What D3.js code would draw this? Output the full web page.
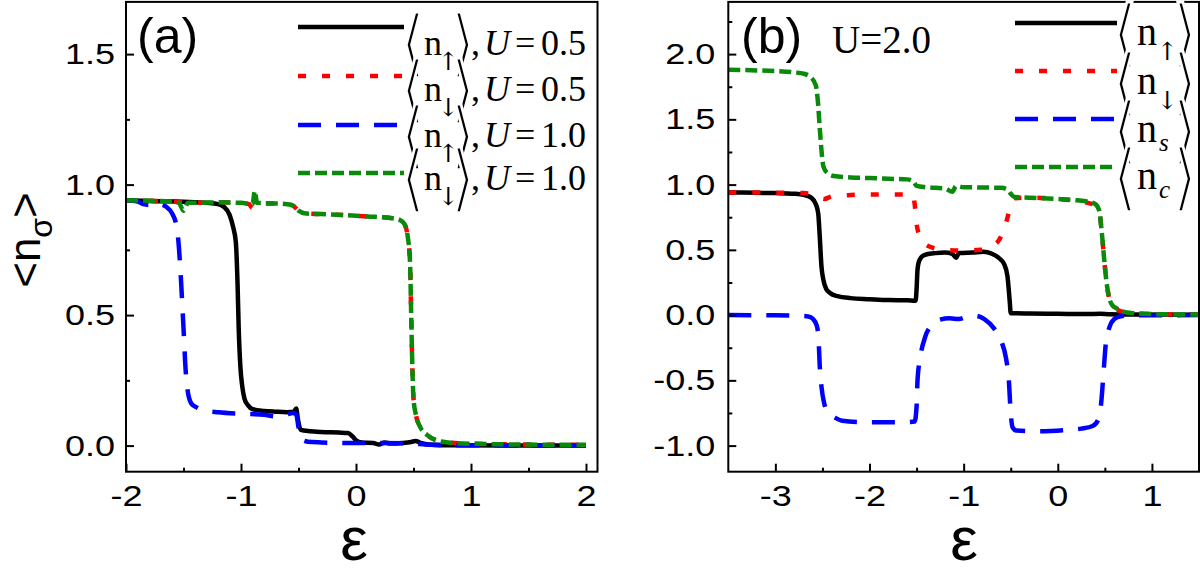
<!DOCTYPE html>
<html><head><meta charset="utf-8">
<script src="https://cdn.jsdelivr.net/npm/d3@7"></script>
<style>
body{margin:0;background:#fff;}
svg{display:block;}
</style></head><body>
<svg id="c" width="1200" height="582"></svg>
<script>
// ---------- DATA ----------
// Panel (a)
const aXTicks = [-2, -1, 0, 1, 2];
const aXMinor = [-1.5, -0.5, 0.5, 1.5];
const aYTicks = [0, 0.5, 1.0, 1.5];
const aYMinor = [0.25, 0.75, 1.25];
const aLegend = [
  {sub: "↑", u: "0.5"}, {sub: "↓", u: "0.5"}, {sub: "↑", u: "1.0"}, {sub: "↓", u: "1.0"}
];
const aUpU05 = [[-2,0.94],[-1.8,0.937],[-1.5,0.934],[-1.3,0.93],[-1.2,0.925],[-1.15,0.915],[-1.1,0.885],[-1.07,0.84],[-1.045,0.78],[-1.03,0.62],[-1.02,0.45],[-1.005,0.3],[-0.99,0.23],[-0.97,0.18],[-0.94,0.155],[-0.9,0.14],[-0.8,0.133],[-0.7,0.13],[-0.6,0.128],[-0.54,0.13],[-0.52,0.142],[-0.505,0.1],[-0.48,0.06],[-0.4,0.055],[-0.3,0.052],[-0.15,0.05],[-0.07,0.048],[-0.03,0.035],[0,0.02],[0.05,0.012],[0.15,0.01],[0.2,0.004],[0.25,0.012],[0.3,0.008],[0.4,0.01],[0.48,0.014],[0.52,0.018],[0.56,0.01],[0.65,0.003],[0.8,0.001],[2,0]];
const aDnU05 = [[-2,0.94],[-1.8,0.938],[-1.6,0.935],[-1.5,0.932],[-1.4,0.93],[-1.2,0.932],[-1.0,0.93],[-0.93,0.925],[-0.9,0.91],[-0.87,0.925],[-0.7,0.928],[-0.6,0.925],[-0.55,0.92],[-0.5,0.9],[-0.45,0.89],[-0.3,0.887],[-0.1,0.883],[0.1,0.878],[0.3,0.872],[0.38,0.865],[0.42,0.85],[0.45,0.8],[0.47,0.7],[0.48,0.5],[0.49,0.3],[0.5,0.18],[0.52,0.12],[0.56,0.07],[0.62,0.04],[0.7,0.02],[0.8,0.012],[1.0,0.007],[1.5,0.004],[2,0.003]];
const aUpU10 = [[-2,0.94],[-1.9,0.935],[-1.85,0.925],[-1.8,0.922],[-1.75,0.93],[-1.7,0.925],[-1.65,0.915],[-1.6,0.89],[-1.56,0.84],[-1.54,0.76],[-1.52,0.62],[-1.5,0.45],[-1.48,0.28],[-1.46,0.2],[-1.43,0.16],[-1.38,0.145],[-1.3,0.133],[-1.2,0.128],[-1.0,0.122],[-0.8,0.118],[-0.7,0.112],[-0.6,0.12],[-0.55,0.125],[-0.52,0.12],[-0.5,0.07],[-0.48,0.025],[-0.42,0.015],[-0.3,0.012],[-0.1,0.01],[0.2,0.01],[0.5,0.008],[0.6,0.004],[0.8,0.002],[2,0]];
const aDnU10 = [[-2,0.94],[-1.8,0.938],[-1.6,0.935],[-1.54,0.93],[-1.5,0.9],[-1.46,0.93],[-1.4,0.93],[-1.2,0.932],[-1.0,0.93],[-0.9,0.925],[-0.88,0.975],[-0.86,0.93],[-0.7,0.928],[-0.6,0.925],[-0.55,0.92],[-0.5,0.9],[-0.45,0.89],[-0.3,0.887],[-0.1,0.883],[0.1,0.878],[0.3,0.872],[0.38,0.865],[0.42,0.85],[0.45,0.8],[0.47,0.7],[0.48,0.5],[0.49,0.3],[0.5,0.18],[0.52,0.12],[0.56,0.07],[0.62,0.04],[0.7,0.02],[0.8,0.012],[1.0,0.007],[1.5,0.004],[2,0.003]];

// Panel (b)
const bXTicks = [-3, -2, -1, 0, 1];
const bXMinor = [-2.5, -1.5, -0.5, 0.5];
const bYTicks = [-1.0, -0.5, 0, 0.5, 1.0, 1.5, 2.0];
const bYMinor = [-0.75, -0.25, 0.25, 0.75, 1.25, 1.75, 2.25];
const bLegend = [{sub: "↑"}, {sub: "↓"}, {sub: "s"}, {sub: "c"}];
const bUp = [[-3.5,0.94],[-3.2,0.937],[-3.0,0.935],[-2.8,0.93],[-2.7,0.922],[-2.62,0.9],[-2.57,0.85],[-2.545,0.78],[-2.53,0.62],[-2.51,0.37],[-2.49,0.27],[-2.46,0.2],[-2.42,0.17],[-2.34,0.145],[-2.2,0.13],[-2.0,0.122],[-1.8,0.115],[-1.6,0.113],[-1.51,0.11],[-1.5,0.2],[-1.49,0.35],[-1.47,0.42],[-1.42,0.46],[-1.3,0.475],[-1.2,0.48],[-1.12,0.47],[-1.08,0.44],[-1.05,0.475],[-0.9,0.48],[-0.79,0.485],[-0.7,0.47],[-0.63,0.44],[-0.57,0.39],[-0.535,0.3],[-0.51,0.1],[-0.5,0.015],[-0.3,0.012],[0,0.01],[0.3,0.008],[0.45,0.01],[0.55,0.006],[0.8,0.004],[1.5,0.003]];
const bDn = [[-3.5,0.94],[-3.0,0.938],[-2.7,0.935],[-2.6,0.925],[-2.53,0.9],[-2.48,0.89],[-2.4,0.91],[-2.2,0.92],[-1.9,0.925],[-1.6,0.925],[-1.54,0.92],[-1.52,0.85],[-1.5,0.7],[-1.47,0.61],[-1.42,0.55],[-1.3,0.51],[-1.2,0.5],[-1.0,0.495],[-0.82,0.5],[-0.7,0.53],[-0.62,0.58],[-0.56,0.68],[-0.53,0.76],[-0.5,0.86],[-0.46,0.895],[-0.3,0.9],[0,0.89],[0.2,0.875],[0.32,0.86],[0.4,0.84],[0.44,0.8],[0.465,0.65],[0.49,0.45],[0.51,0.3],[0.54,0.15],[0.58,0.07],[0.65,0.035],[0.75,0.018],[1.0,0.008],[1.5,0.004]];
const bS = [[-3.5,0],[-3.0,-0.002],[-2.8,-0.005],[-2.65,-0.01],[-2.6,-0.03],[-2.56,-0.08],[-2.54,-0.2],[-2.53,-0.37],[-2.51,-0.55],[-2.48,-0.68],[-2.44,-0.75],[-2.37,-0.785],[-2.29,-0.81],[-2.1,-0.82],[-1.9,-0.822],[-1.6,-0.82],[-1.52,-0.815],[-1.5,-0.7],[-1.49,-0.5],[-1.46,-0.32],[-1.41,-0.17],[-1.33,-0.07],[-1.25,-0.035],[-1.15,-0.025],[-1.05,-0.03],[-0.95,-0.01],[-0.88,-0.005],[-0.78,-0.03],[-0.68,-0.1],[-0.6,-0.2],[-0.55,-0.33],[-0.52,-0.5],[-0.5,-0.75],[-0.48,-0.86],[-0.44,-0.885],[-0.2,-0.89],[0.1,-0.88],[0.25,-0.87],[0.37,-0.85],[0.43,-0.8],[0.46,-0.68],[0.49,-0.4],[0.51,-0.22],[0.55,-0.09],[0.6,-0.03],[0.67,-0.008],[0.8,-0.002],[1.5,0]];
const bC = [[-3.5,1.88],[-3.2,1.875],[-3.0,1.87],[-2.8,1.86],[-2.7,1.85],[-2.62,1.82],[-2.57,1.76],[-2.55,1.65],[-2.53,1.45],[-2.51,1.26],[-2.49,1.14],[-2.45,1.09],[-2.38,1.066],[-2.2,1.055],[-2.0,1.05],[-1.8,1.045],[-1.6,1.04],[-1.53,1.02],[-1.5,0.99],[-1.4,0.98],[-1.3,0.975],[-1.2,0.97],[-1.12,0.945],[-1.08,0.99],[-1.0,0.98],[-0.8,0.978],[-0.6,0.975],[-0.53,0.96],[-0.5,0.93],[-0.46,0.905],[-0.3,0.9],[0,0.89],[0.2,0.88],[0.32,0.87],[0.4,0.85],[0.44,0.8],[0.465,0.65],[0.49,0.45],[0.51,0.3],[0.54,0.15],[0.58,0.075],[0.63,0.05],[0.7,0.025],[0.8,0.015],[1.0,0.008],[1.5,0.004]];

// ---------- STYLES ----------
const SANS = "'Liberation Sans', Arial, Helvetica, sans-serif";
const SERIF = "'Liberation Serif', 'Times New Roman', serif";
const BRK = "'DejaVu Sans', sans-serif";
const styles = [
  {color: "#000000", dash: null},
  {color: "#ff0000", dash: "8,16"},
  {color: "#0000ff", dash: "23,15"},
  {color: "#0a8a0a", dash: "12,5"}
];
const STRETCH = 1.2;

const svg = d3.select("#c");

function panel(cfg) {
  const {x, y} = cfg;
  const g = svg.append("g");
  const [x0, x1] = x.range(), [yb, yt] = y.range();
  const clipId = "clip" + cfg.name;
  svg.append("clipPath").attr("id", clipId).append("rect")
    .attr("x", x0).attr("y", yt).attr("width", x1 - x0).attr("height", yb - yt);

  const line = d3.line().x(d => x(d[0])).y(d => y(d[1])).curve(d3.curveMonotoneX);
  const lg = g.append("g").attr("clip-path", `url(#${clipId})`);
  cfg.series.forEach((s, i) => {
    lg.append("path").datum(s).attr("d", line)
      .attr("fill", "none").attr("stroke", styles[i].color)
      .attr("stroke-width", 4.5)
      .attr("stroke-dasharray", styles[i].dash)
      .attr("stroke-linejoin", "round");
  });

  g.append("rect").attr("x", x0).attr("y", yt).attr("width", x1 - x0).attr("height", yb - yt)
    .attr("fill", "none").attr("stroke", "#000").attr("stroke-width", 2);

  const styleAxis = sel => {
    sel.select(".domain").remove();
    sel.selectAll(".tick line").attr("stroke", "#000").attr("stroke-width", 2);
    sel.selectAll("text").attr("fill", "#000");
    sel.attr("font-family", SANS).attr("font-size", 30);
  };
  g.append("g").attr("transform", `translate(0,${yb})`)
    .call(d3.axisBottom(x).tickValues(cfg.xMinor).tickSize(-4).tickFormat("")).call(styleAxis);
  g.append("g").attr("transform", `translate(0,${yb})`)
    .call(d3.axisBottom(x).tickValues(cfg.xTicks).tickSize(-8).tickPadding(13).tickFormat(d => String(d)))
    .call(styleAxis)
    .call(s => s.selectAll(".tick text").attr("transform", `scale(${STRETCH},1)`));
  g.append("g").attr("transform", `translate(${x0},0)`)
    .call(d3.axisLeft(y).tickValues(cfg.yMinor).tickSize(-4).tickFormat("")).call(styleAxis);
  g.append("g").attr("transform", `translate(${x0},0)`)
    .call(d3.axisLeft(y).tickValues(cfg.yTicks).tickSize(-8).tickPadding(11).tickFormat(d => d.toFixed(1)))
    .call(styleAxis)
    .call(s => s.selectAll(".tick text").attr("x", -cfg.yPad / STRETCH).attr("transform", `scale(${STRETCH},1)`));

  g.append("text").attr("x", cfg.epsX).attr("y", 560).attr("text-anchor", "middle")
    .attr("font-family", SANS).attr("font-size", 62).text("ε");
  return g;
}

const xA = d3.scaleLinear([-2, 2.1], [126, 597.5]);
const yA = d3.scaleLinear([-0.1, 1.7], [471.7, 1.9]);
const xB = d3.scaleLinear([-3.5, 1.5], [728.3, 1199]);
const yB = d3.scaleLinear([-1.2, 2.4], [471.7, 1.9]);

panel({name: "A", x: xA, y: yA, xTicks: aXTicks, xMinor: aXMinor, yTicks: aYTicks, yMinor: aYMinor,
  series: [aUpU05, aDnU05, aUpU10, aDnU10], epsX: 354, yPad: 11});
panel({name: "B", x: xB, y: yB, xTicks: bXTicks, xMinor: bXMinor, yTicks: bYTicks, yMinor: bYMinor,
  series: [bUp, bDn, bS, bC], epsX: 964, yPad: 13});

svg.append("text").attr("x", 137).attr("y", 53).attr("font-family", SANS).attr("font-size", 50).text("(a)");
svg.append("text").attr("x", 741).attr("y", 53).attr("font-family", SANS).attr("font-size", 50).text("(b)");
svg.append("text").attr("x", 832).attr("y", 53).attr("font-family", SERIF).attr("font-size", 39).text("U=2.0");

// y label  <n_σ>
const yl = svg.append("text").attr("transform", "translate(40,240) rotate(-90)")
  .attr("text-anchor", "middle").attr("font-family", SANS).attr("font-size", 44);
yl.append("tspan").text("<n");
yl.append("tspan").attr("font-size", 32).attr("dy", 12).text("σ");
yl.append("tspan").attr("dy", -12).text(">");

// legends
function legend(items, opt) {
  items.forEach((it, i) => {
    const ly = opt.lineY[i];
    const st = styles[i];
    svg.append("line").attr("x1", opt.lx0).attr("x2", opt.lx1).attr("y1", ly).attr("y2", ly)
      .attr("stroke", st.color).attr("stroke-width", 4.5).attr("stroke-dasharray", st.dash);
  });
  items.forEach((it, i) => {
    const b = opt.base[i];
    const cy = b - 12;
    [["⟨", opt.bl], ["⟩", opt.br]].forEach(([ch, bx]) => {
      svg.append("text").attr("transform", `translate(${bx},${cy}) scale(1.2,1.42)`)
        .attr("font-family", BRK).attr("font-size", 52).attr("dominant-baseline", "central")
        .attr("stroke", "#fff").attr("stroke-width", 2.2)
        .attr("text-anchor", "middle").text(ch);
    });
  });
  items.forEach((it, i) => {
    const b = opt.base[i];
    svg.append("text").attr("x", opt.nx).attr("y", b).attr("font-family", SERIF)
      .attr("font-size", opt.fs).text("n");
    const arrow = it.sub === "↑" || it.sub === "↓";
    svg.append("text").attr("x", arrow ? opt.ax : opt.sx).attr("y", b + (arrow ? 15 : 9))
      .attr("font-family", arrow ? "'DejaVu Serif', serif" : SERIF)
      .attr("font-style", arrow ? "normal" : "italic")
      .attr("font-size", 25).text(it.sub);
    if (it.u) {
      const t = svg.append("text").attr("y", b).attr("font-family", SERIF).attr("font-size", opt.fs);
      t.append("tspan").attr("x", 471).text(",");
      t.append("tspan").attr("x", 484).attr("font-style", "italic").text("U");
      t.append("tspan").attr("x", 515).text("=");
      t.append("tspan").attr("x", 541).text(it.u);
    }
  });
}
legend(aLegend, {lineY: [27, 76, 125, 173], base: [55, 101, 147, 190], lx0: 298, lx1: 404,
  bl: 413, br: 463, nx: 424, ax: 438, sx: 443, fs: 36});
legend(bLegend, {lineY: [23, 71, 119, 167], base: [45, 94, 142, 189], lx0: 1015, lx1: 1117,
  bl: 1125, br: 1185, nx: 1137, ax: 1157, sx: 1159, fs: 40});
</script>
</body></html>
